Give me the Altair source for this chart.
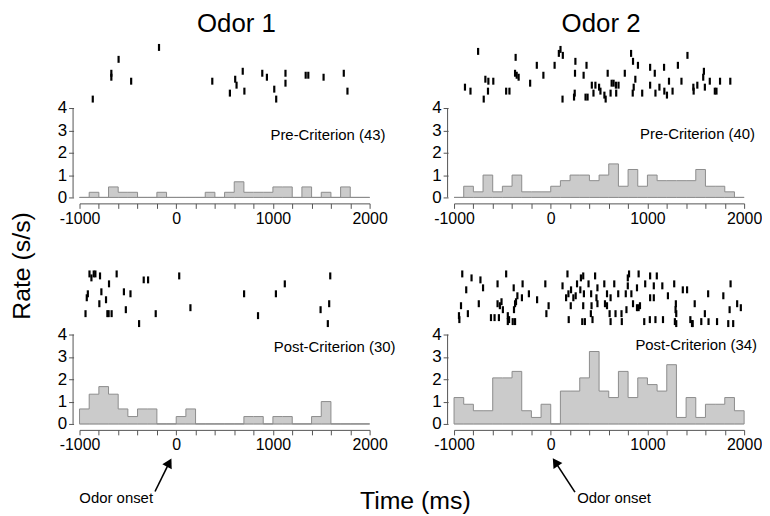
import altair as alt
import pandas as pd

# ---- data -------------------------------------------------------------
bin_starts = list(range(-1000, 2000, 100))  # 100 ms bins

rate_pre_odor1 = [0, 0.23, 0, 0.47, 0.23, 0.23, 0, 0, 0.23, 0, 0, 0, 0, 0.23, 0,
                  0.23, 0.70, 0.23, 0.23, 0.23, 0.47, 0.47, 0, 0.47, 0, 0.23, 0, 0.47, 0, 0]
rate_pre_odor2 = [0, 0.5, 0.25, 1.0, 0.25, 0.5, 1.0, 0.25, 0.25, 0.25, 0.5, 0.75, 1.0, 1.0, 0.75,
                  1.0, 1.5, 0.5, 1.25, 0.5, 1.0, 0.75, 0.75, 0.75, 0.75, 1.25, 0.5, 0.5, 0.25, 0]
rate_post_odor1 = [0.67, 1.33, 1.67, 1.33, 0.67, 0.33, 0.67, 0.67, 0, 0, 0.33, 0.67, 0, 0, 0,
                   0, 0, 0.33, 0.33, 0, 0.33, 0.33, 0, 0, 0.33, 1.0, 0, 0, 0, 0]
rate_post_odor2 = [1.18, 0.88, 0.59, 0.59, 2.06, 2.06, 2.35, 0.59, 0.29, 0.88, 0, 1.47, 1.47, 2.06, 3.24,
                   1.47, 1.18, 2.35, 1.18, 2.06, 1.76, 1.47, 2.65, 0.29, 1.18, 0.29, 0.88, 0.88, 1.18, 0.59]

spk_pre_odor1_t = [-863, -671, -671, -596, -466, -178, 373, 555, 610, 624, 688, 705, 890, 938,
                   1014, 1034, 1130, 1130, 1339, 1366, 1524, 1733, 1771]
spk_pre_odor1_tr = [29, 16, 18, 9, 20, 3, 20, 26, 19, 22, 15, 25, 16, 18,
                    24, 29, 16, 21, 17, 17, 18, 16, 25]

spk_pre_odor2_t = [-887, -830, -751, -693, -676, -649, -645, -594, -461, -427, -363, -369, -352, -332,
                   -213, -144, -76, 40, 84, 101, 125, 122, 241, 248, 255, 251, 340, 360, 370, 381,
                   425, 442, 462, 500, 514, 555, 568, 589, 619, 630, 650, 674, 677, 701, 766, 831,
                   851, 875, 858, 848, 902, 946, 1028, 1028, 1076, 1083, 1124, 1172, 1175, 1202,
                   1223, 1260, 1315, 1352, 1414, 1475, 1478, 1516, 1584, 1577, 1594, 1645, 1697,
                   1714, 1751, 1857]
spk_pre_odor2_tr = [23, 25, 5, 29, 19, 25, 20, 20, 25, 25, 8, 16, 17, 18,
                    21, 12, 17, 12, 6, 4, 7, 29, 28, 26, 10, 16, 17, 28, 12, 28,
                    22, 26, 22, 23, 25, 27, 29, 16, 26, 21, 21, 22, 26, 22, 16, 6,
                    10, 19, 23, 26, 12, 26, 13, 22, 16, 26, 23, 13, 25, 27,
                    20, 25, 12, 20, 7, 23, 25, 22, 15, 18, 23, 20, 25,
                    25, 20, 20]

spk_post_odor1_t = [-897, -877, -853, -836, -788, -616, -695, -914, -925, -774, -726, -541, -473,
                    -795, -938, -712, -699, -668, -521, -384, -336, -291, -212, 31, 147, 702,
                    846, 1031, 1123, 1493, 1582, 1593, 1568]
spk_post_odor1_tr = [3, 5, 3, 3, 4, 3, 8, 13, 15, 12, 16, 12, 13,
                     18, 23, 23, 23, 23, 21, 28, 6, 6, 23, 4, 20, 13,
                     24, 13, 8, 21, 18, 4, 28]

spk_post_odor2_t = [-915, -461, 173, 336, 459, 810, 909, 1028, 1097,
                    -819, -727, 312, 797,
                    -550, -291, -56, 122, 272, 391, 554, 657, 797, 977, 1154, 1277, 1860,
                    -874, -700, -383, 210, 306, 483, 892, 1066, 1366, 1410, 1628,
                    -226, -345, 183, 258, 343, 418, 582, 698, 776, 834, 1028, 1066, 1212, 1785,
                    -298, -141, 159, 234, 473, 619,
                    -928, -744, -550, -526, -509, -359, -369, -22, 207, 336, 422, 483, 561, 582,
                    851, 892, 909, 923, 1294, 1489, 1928,
                    -857, -949, -495, -380, -45, 415, 609, 670, 732, 783, 1291, 1298, 1594, 1850, 1966,
                    -945, -618, -581, -536, -444, -431, -393, -369, -444, 186, 326, 353, 432, 619,
                    735, 967, 1025, 1083, 1161, 1284, 1298, 1444, 1468, 1557, 1632, 1720, 1836, 1887, 1461]
spk_post_odor2_tr = [3, 3, 3, 4, 4, 3, 3, 4, 4,
                     5, 6, 5, 5,
                     8, 8, 8, 9, 8, 8, 8, 8, 9, 8, 9, 8, 8,
                     11, 10, 10, 11, 11, 10, 10, 9, 11, 11, 13,
                     13, 14, 13, 14, 13, 13, 13, 13, 13, 13, 15, 15, 14, 14,
                     15, 16, 15, 15, 15, 15,
                     19, 18, 18, 19, 17, 17, 18, 19, 19, 19, 19, 18, 18, 19,
                     18, 20, 20, 19, 18, 18, 18,
                     23, 24, 21, 21, 23, 23, 23, 23, 23, 21, 21, 23, 23, 21, 20,
                     26, 25, 25, 25, 24, 26, 27, 27, 27, 26, 27, 27, 26, 27,
                     27, 27, 26, 26, 26, 27, 28, 26, 28, 27, 27, 27, 28, 28, 28]

titles = ["Odor 1", "Odor 2"]
labels = ["Pre-Criterion (43)", "Pre-Criterion (40)", "Post-Criterion (30)", "Post-Criterion (34)"]
axis_ticks = list(range(-1000, 2001, 200))
rate_ticks = [0, 1, 2, 3, 4]

# ---- layout constants ---------------------------------------------------
W = 292
H = 159          # panel height: raster on top, histogram below
HIST_H = 90      # pixel height of 0..4 s/s
RASTER_PX = 2    # pixels per trial row
FONT = "Liberation Sans"
AX = "#555555"

xscale = alt.Scale(domain=[-1000, 2000], nice=False, zero=False)
xaxis = alt.Axis(values=axis_ticks,
                 labelExpr="datum.value % 1000 == 0 ? (datum.value < 0 ? '-' + (-datum.value) : '' + datum.value) : ''",
                 title=None, offset=6, tickSize=5, labelFontSize=16, labelFont=FONT,
                 domainColor=AX, tickColor=AX, labelColor="black",
                 grid=False, labelPadding=2, labelFlush=False, labelOverlap=False)
yaxis = alt.Axis(values=rate_ticks, title=None, offset=6, tickSize=5, labelFontSize=17,
                 labelFont=FONT, domain=False, tickColor=AX, labelColor="black",
                 grid=False, labelPadding=2)

hist_top = H / (HIST_H / 4.0)                # rate value at top of panel
raster_bottom = -1 + H / RASTER_PX           # trial value at bottom of panel


def hist_scale():
    return alt.Scale(domain=[0, hist_top], nice=False, zero=True)


def panel(rate, spk_t, spk_tr, label, label_x, label_y, extra=None):
    hist_df = pd.DataFrame({"t": bin_starts + [2000], "rate": rate + [rate[-1]]})
    spk_df = pd.DataFrame({"t": spk_t, "trial": spk_tr})
    base_df = pd.DataFrame({"t": [-1000], "t2": [2000], "y": [0]})
    yax_df = pd.DataFrame({"y": [rate_ticks[0]], "y2": [rate_ticks[-1]]})

    area = alt.Chart(hist_df).mark_area(
        interpolate="step-after", fill="#cbcbcb", stroke="#8c8c8c", strokeWidth=1
    ).encode(
        x=alt.X("t:Q", scale=xscale, axis=xaxis),
        y=alt.Y("rate:Q", scale=hist_scale(), axis=yaxis),
    )
    baseline = alt.Chart(base_df).mark_rule(color="#aaaaaa", strokeWidth=1).encode(
        x=alt.X("t:Q", scale=xscale, axis=xaxis),
        x2="t2:Q",
        y=alt.Y("y:Q", scale=hist_scale(), axis=None),
    )
    yline = alt.Chart(yax_df).mark_rule(color=AX, strokeWidth=1).encode(
        x=alt.value(-6.5),
        y=alt.Y("y:Q", scale=hist_scale(), axis=None),
        y2="y2:Q",
    )
    raster = alt.Chart(spk_df).mark_tick(
        orient="vertical", size=7, thickness=2.2, color="black", opacity=1
    ).encode(
        x=alt.X("t:Q", scale=xscale, axis=xaxis),
        y=alt.Y("trial:Q", scale=alt.Scale(domain=[-1, raster_bottom], nice=False, zero=False,
                                           reverse=True),
                axis=None),
    )
    one = pd.DataFrame({"a": [0]})
    txt = alt.Chart(one).mark_text(align="right", baseline="middle", fontSize=15, font=FONT,
                                   color="black").encode(
        x=alt.value(label_x), y=alt.value(label_y), text=alt.value(label))
    layers = [baseline, area, yline, raster, txt]
    if extra:
        layers += extra
    return alt.layer(*layers).resolve_scale(y="independent").properties(width=W, height=H)


def text_mark(s, x, y, size, align="center", angle=0):
    kw = dict(align=align, baseline="middle", fontSize=size, font=FONT, color="black")
    if angle:
        kw["angle"] = angle
    return alt.Chart(pd.DataFrame({"a": [0]})).mark_text(**kw).encode(
        x=alt.value(x), y=alt.value(y), text=alt.value(s))


def arrow(x1, y1, x2, y2, ang):
    one = pd.DataFrame({"a": [0]})
    line = alt.Chart(one).mark_rule(color="black", strokeWidth=1.6).encode(
        x=alt.value(x1), y=alt.value(y1), x2=alt.value(x2), y2=alt.value(y2))
    head = alt.Chart(one).mark_point(shape="triangle-up", filled=True, size=115, color="black",
                                     opacity=1, angle=ang).encode(
        x=alt.value(x2), y=alt.value(y2))
    return [line, head]


tl = panel(rate_pre_odor1, spk_pre_odor1_t, spk_pre_odor1_tr, labels[0], 308, 96,
           extra=[text_mark(titles[0], 158, -16, 26)])
tr = panel(rate_pre_odor2, spk_pre_odor2_t, spk_pre_odor2_tr, labels[1], 303, 95,
           extra=[text_mark(titles[1], 148, -16, 26)])
bl = panel(rate_post_odor1, spk_post_odor1_t, spk_post_odor1_tr, labels[2], 318, 82,
           extra=[text_mark("Rate (s/s)", -57.5, 0, 25, angle=270),
                  text_mark("Time (ms)", 338, 237, 25),
                  text_mark("Odor onset", 74, 234, 15, align="right")]
           + arrow(76, 227, 90.3, 198, 28.5))
br = panel(rate_post_odor2, spk_post_odor2_t, spk_post_odor2_tr, labels[3], 305, 80,
           extra=[text_mark("Odor onset", 124, 234, 15, align="left")]
           + arrow(121.7, 227.7, 102, 197.5, 326))

chart = alt.concat(tl, tr, bl, br, columns=2, bounds="flush",
                   spacing={"row": 69, "column": 85}).properties(
    padding={"left": 2, "top": 1, "right": 0, "bottom": 0},
    background="white",
).configure_view(stroke="transparent", strokeWidth=0)

chart.save("out.html", embed_options={"renderer": "svg", "actions": False})
